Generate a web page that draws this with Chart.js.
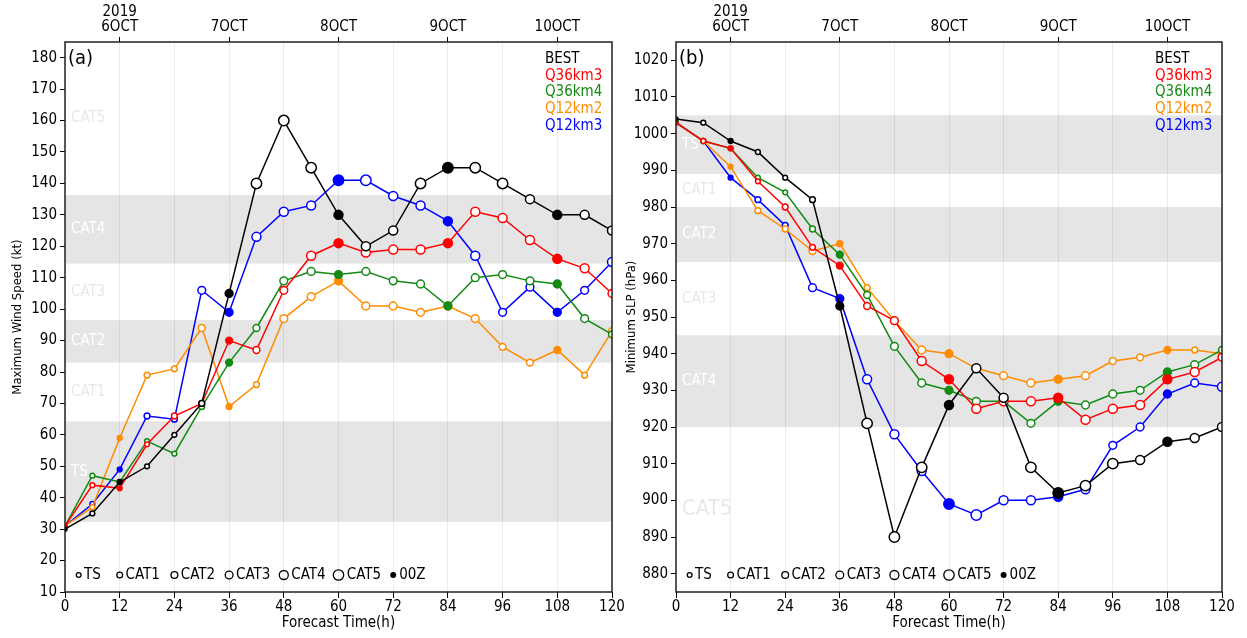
<!DOCTYPE html>
<html>
<head>
<meta charset="utf-8">
<script src="https://cdn.jsdelivr.net/npm/chart.js@4/dist/chart.umd.min.js"></script>
<style>
  html, body { margin: 0; padding: 0; background: #fff; }
  #wrap { position: relative; width: 1247px; height: 638px; overflow: hidden; }
  #wind { position: absolute; left: 0; top: 0; }
  #slp { position: absolute; left: 620px; top: 0; }
</style>
</head>
<body>
<div id="wrap">
  <canvas id="wind" width="632" height="638"></canvas>
  <canvas id="slp" width="627" height="638"></canvas>
</div>
<script>
// forecast hours and date axis
const hours = [0, 6, 12, 18, 24, 30, 36, 42, 48, 54, 60, 66, 72, 78, 84, 90, 96, 102, 108, 114, 120];
const forecastTicks = [0, 12, 24, 36, 48, 60, 72, 84, 96, 108, 120];
const zeroZHours = [12, 36, 60, 84, 108];
const dateTickHours = [12, 36, 60, 84, 108];
const dateTickLabels = [['2019', '6OCT'], '7OCT', '8OCT', '9OCT', '10OCT'];

const models = ['BEST', 'Q36km3', 'Q36km4', 'Q12km2', 'Q12km3'];
const modelColors = ['#000000', '#ff0000', '#138a13', '#ff8c00', '#0000ff'];

// (a) maximum wind speed (kt)
const windBest   = [30, 35, 45, 50, 60, 70, 105, 140, 160, 145, 130, 120, 125, 140, 145, 145, 140, 135, 130, 130, 125];
const windQ36km3 = [31, 44, 43, 57, 66, 70, 90, 87, 106, 117, 121, 118, 119, 119, 121, 131, 129, 122, 116, 113, 105];
const windQ36km4 = [31, 47, 45, 58, 54, 69, 83, 94, 109, 112, 111, 112, 109, 108, 101, 110, 111, 109, 108, 97, 92];
const windQ12km2 = [31, 37, 59, 79, 81, 94, 69, 76, 97, 104, 109, 101, 101, 99, 101, 97, 88, 83, 87, 79, 93];
const windQ12km3 = [31, 38, 49, 66, 65, 106, 99, 123, 131, 133, 141, 141, 136, 133, 128, 117, 99, 107, 99, 106, 115];

// (b) minimum SLP (hPa)
const slpBest   = [1004, 1003, 998, 995, 988, 982, 953, 921, 890, 909, 926, 936, 928, 909, 902, 904, 910, 911, 916, 917, 920];
const slpQ36km3 = [1003, 998, 996, 987, 980, 969, 964, 953, 949, 938, 933, 925, 927, 927, 928, 922, 925, 926, 933, 935, 939];
const slpQ36km4 = [1003, 998, 996, 988, 984, 974, 967, 956, 942, 932, 930, 927, 927, 921, 927, 926, 929, 930, 935, 937, 941];
const slpQ12km2 = [1003, 998, 991, 979, 974, 968, 970, 958, 949, 941, 940, 936, 934, 932, 933, 934, 938, 939, 941, 941, 940];
const slpQ12km3 = [1003, 998, 988, 982, 975, 958, 955, 933, 918, 908, 899, 896, 900, 900, 901, 903, 915, 920, 929, 932, 931];

const windSeries = [windBest, windQ36km3, windQ36km4, windQ12km2, windQ12km3];
const slpSeries = [slpBest, slpQ36km3, slpQ36km4, slpQ12km2, slpQ12km3];

const windTicks = [10, 20, 30, 40, 50, 60, 70, 80, 90, 100, 110, 120, 130, 140, 150, 160, 170, 180];
const slpTicks = [880, 890, 900, 910, 920, 930, 940, 950, 960, 970, 980, 990, 1000, 1010, 1020];

// intensity categories: band edges on each axis, and knot thresholds for marker size
const catNames = ['TS', 'CAT1', 'CAT2', 'CAT3', 'CAT4', 'CAT5'];
const windCatEdges = [32.3, 64.3, 83, 96.5, 114.5, 136.3, 185];
const slpCatEdges = [1005, 989, 980, 965, 945, 920, 875];
const catKnots = [34, 64, 83, 96, 113, 137];
const legendNames = ['TS', 'CAT1', 'CAT2', 'CAT3', 'CAT4', 'CAT5', '00Z'];
const legendHours = [3, 12, 24, 36, 48, 60, 72];

const FONT = "'Liberation Sans Narrow', 'DejaVu Sans Condensed', 'Liberation Sans', sans-serif";
const catRadii = [2.4, 2.9, 3.4, 3.9, 4.5, 5.2];
const shadedCats = [0, 2, 4];

function catOf(v) {
  let c = -1;
  catKnots.forEach((k, i) => { if (v >= k) c = i; });
  return c;
}
function markerRadius(v) {
  const c = catOf(v);
  return c < 0 ? 2 : catRadii[c];
}

function buildDatasets(series) {
  return models.map((name, m) => ({
    label: name,
    data: hours.map((h, i) => ({ x: h, y: series[m][i] })),
    borderColor: modelColors[m],
    borderWidth: 1.5,
    pointRadius: c => markerRadius(windSeries[m][c.dataIndex]),
    pointBorderWidth: 1.5,
    pointBorderColor: modelColors[m],
    pointBackgroundColor: c => {
      const filled = zeroZHours.includes(hours[c.dataIndex]) || catOf(windSeries[m][c.dataIndex]) < 0;
      return filled ? modelColors[m] : '#ffffff';
    },
    tension: 0,
    fill: false
  }));
}

const decoPlugin = {
  id: 'deco',
  beforeDraw(chart, args, o) {
    const { ctx, chartArea: a, scales: { y } } = chart;
    ctx.save();
    ctx.fillStyle = '#e5e5e5';
    shadedCats.forEach(i => {
      const y1 = y.getPixelForValue(o.edges[i]);
      const y2 = y.getPixelForValue(o.edges[i + 1]);
      ctx.fillRect(a.left, Math.min(y1, y2), a.width, Math.abs(y2 - y1));
    });
    ctx.restore();
  },
  beforeDatasetsDraw(chart, args, o) {
    const { ctx, chartArea: a, scales: { y } } = chart;
    ctx.save();
    ctx.textAlign = 'left';
    ctx.textBaseline = 'middle';
    catNames.forEach((n, i) => {
      const ym = y.getPixelForValue((o.edges[i] + o.edges[i + 1]) / 2);
      ctx.fillStyle = shadedCats.includes(i) ? '#ffffff' : '#e8e8e8';
      const size = (o.bigCat5 && n === 'CAT5') ? 22 : 15;
      ctx.font = size + 'px ' + FONT;
      ctx.fillText(n, a.left + 6, ym);
    });
    ctx.restore();
  },
  afterDraw(chart, args, o) {
    const { ctx, chartArea: a, scales: { x } } = chart;
    ctx.save();
    // frame
    ctx.strokeStyle = '#222';
    ctx.lineWidth = 1.5;
    ctx.strokeRect(a.left, a.top, a.width, a.height);

    // panel label
    ctx.fillStyle = '#000';
    ctx.font = '20px ' + FONT;
    ctx.textAlign = 'left';
    ctx.textBaseline = 'middle';
    ctx.fillText(o.panel, a.left + 3, a.top + 17);

    // model legend
    ctx.font = '15px ' + FONT;
    models.forEach((n, m) => {
      ctx.fillStyle = modelColors[m];
      ctx.fillText(n, a.right - 67, a.top + 17 + m * 16.8);
    });

    // marker-size legend
    const ly = a.bottom - 17;
    legendNames.forEach((n, i) => {
      const cx = x.getPixelForValue(legendHours[i]);
      let r;
      ctx.beginPath();
      if (n === '00Z') {
        r = 3;
        ctx.arc(cx, ly, r, 0, Math.PI * 2);
        ctx.fillStyle = '#000';
        ctx.fill();
      } else {
        r = catRadii[i];
        ctx.arc(cx, ly, r, 0, Math.PI * 2);
        ctx.strokeStyle = '#000';
        ctx.lineWidth = 1.3;
        ctx.stroke();
      }
      ctx.fillStyle = '#000';
      ctx.fillText(n, cx + r + 3, ly);
    });
    ctx.restore();
  }
};

function makeChart(id, opts) {
  const tickFont = { family: FONT, size: 15, lineHeight: 1 };
  return new Chart(document.getElementById(id), {
    type: 'line',
    data: { datasets: buildDatasets(opts.series) },
    options: {
      responsive: false,
      animation: false,
      events: [],
      layout: { padding: { left: 0, right: opts.padRight, top: 0, bottom: 0 } },
      plugins: {
        legend: { display: false },
        tooltip: { enabled: false },
        deco: { edges: opts.edges, panel: opts.panel, bigCat5: opts.bigCat5 }
      },
      scales: {
        x: {
          type: 'linear', position: 'bottom', min: 0, max: 120,
          afterBuildTicks: s => { s.ticks = forecastTicks.map(v => ({ value: v })); },
          afterFit: s => { s.height = 46; },
          ticks: { color: '#000', font: tickFont, padding: 2, maxRotation: 0, autoSkip: false,
                   callback: v => String(v) },
          grid: { color: 'rgba(0,0,0,0.08)', lineWidth: 1, tickColor: '#000', tickLength: 6 },
          border: { display: false },
          title: { display: true, text: 'Forecast Time(h)', color: '#000',
                   font: { family: FONT, size: 15 }, padding: { top: 0, bottom: 6 } }
        },
        xTop: {
          type: 'linear', position: 'top', min: 0, max: 120,
          afterBuildTicks: s => { s.ticks = dateTickHours.map(v => ({ value: v })); },
          afterFit: s => { s.height = 42; },
          ticks: {
            color: '#000', font: tickFont, padding: 2, maxRotation: 0, autoSkip: false,
            callback: v => dateTickLabels[dateTickHours.indexOf(v)]
          },
          grid: { drawOnChartArea: false, tickColor: '#000', tickLength: 5 },
          border: { display: false }
        },
        y: {
          type: 'linear', position: 'left', min: opts.yMin, max: opts.yMax,
          afterBuildTicks: s => { s.ticks = opts.yTicks.map(v => ({ value: v })); },
          afterFit: s => { s.width = opts.yWidth; },
          ticks: { color: '#000', font: tickFont, padding: 3, autoSkip: false,
                   callback: v => String(v) },
          grid: { drawOnChartArea: false, tickColor: '#000', tickLength: 5 },
          border: { display: false },
          title: { display: true, text: opts.yTitle, color: '#000',
                   font: { family: FONT, size: 13 }, padding: { top: opts.yTitlePad, bottom: 0 } }
        }
      }
    },
    plugins: [decoPlugin]
  });
}

makeChart('wind', {
  series: windSeries, edges: windCatEdges, panel: '(a)', bigCat5: false,
  yMin: 10, yMax: 185, yTicks: windTicks, yWidth: 65, padRight: 20,
  yTitle: 'Maximum Wind Speed (kt)', yTitlePad: 10
});

makeChart('slp', {
  series: slpSeries, edges: slpCatEdges, panel: '(b)', bigCat5: true,
  yMin: 875, yMax: 1025, yTicks: slpTicks, yWidth: 56, padRight: 25,
  yTitle: 'Minimum SLP (hPa)', yTitlePad: 4
});
</script>
</body>
</html>
